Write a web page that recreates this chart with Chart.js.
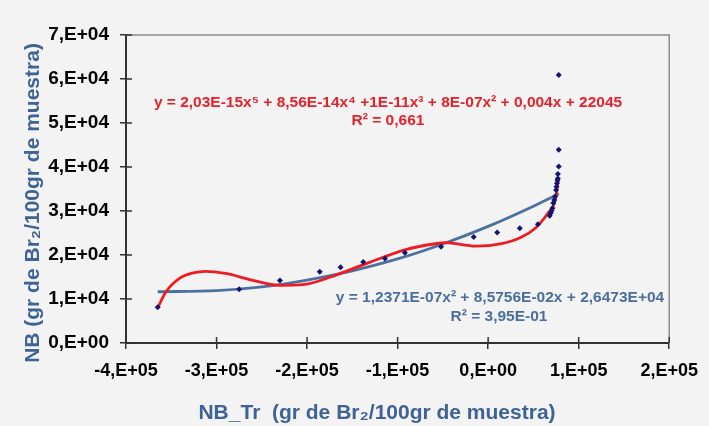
<!DOCTYPE html>
<html>
<head>
<meta charset="utf-8">
<script src="https://cdn.jsdelivr.net/npm/chart.js@4.4.1/dist/chart.umd.min.js"></script>
<style>
  html, body { margin: 0; padding: 0; background: #f3f3f3; }
  #wrap { width: 709px; height: 426px; }
</style>
</head>
<body>
<div id="wrap"><canvas id="c" width="709" height="426"></canvas></div>
<script>
// ---- data ----
const xTickLabels = ['-4,E+05', '-3,E+05', '-2,E+05', '-1,E+05', '0,E+00', '1,E+05', '2,E+05'];
const yTickLabels = ['0,E+00', '1,E+04', '2,E+04', '3,E+04', '4,E+04', '5,E+04', '6,E+04', '7,E+04'];

const obsX = [-365000, -275000, -230000, -186000, -163000, -138000, -114000, -92000, -52000, -16000, 10000, 35000, 55000,
              68000, 69000, 70000, 71000, 72000, 73000, 74000, 75000, 75500, 76000, 76500, 77000, 77000, 78000, 78000, 78000];
const obsY = [8100, 12200, 14200, 16200, 17200, 18400, 19200, 20500, 21900, 24100, 25100, 26100, 27000,
              28900, 29500, 30000, 30600, 31800, 32500, 33300, 34800, 35500, 36300, 37000, 37400, 38400, 40100, 43900, 60900];

// 5th order polynomial trendline (red)
const polyFitX = [-365000, -356000, -341000, -327000, -312000, -290000, -261000, -230000, -203000, -174000, -134000,
                  -90000, -60000, -47000, -14000, 15000, 37000, 52000, 66000, 73500, 77500];
const polyFitY = [8000, 11600, 14700, 15900, 16300, 15800, 14300, 13100, 13300, 15000, 18100,
                  21300, 22500, 22800, 22000, 22600, 24100, 26100, 29500, 32100, 37000];

// 2nd order polynomial trendline (blue)
const quadFitX = [-365000, -300000, -250000, -200000, -150000, -100000, -50000, 0, 50000, 78000];
const quadFitY = [11650, 11900, 12750, 14300, 16400, 19100, 22500, 26500, 31100, 33900];

const redEq = ['y = 2,03E-15x\u2075 + 8,56E-14x\u2074 +1E-11x\u00B3 + 8E-07x\u00B2 + 0,004x + 22045', 'R\u00B2 = 0,661'];
const blueEq = ['y = 1,2371E-07x\u00B2 + 8,5756E-02x + 2,6473E+04', 'R\u00B2 = 3,95E-01'];
const xTitle = 'NB_Tr  (gr de Br\u2082/100gr de muestra)';
const yTitle = 'NB (gr de Br\u2082/100gr de muestra)';

const toPts = (xs, ys) => xs.map((x, i) => ({ x: x, y: ys[i] }));

const FONT = '"Liberation Sans", Arial, sans-serif';
const AXIS_TITLE_COLOR = '#3e6394';

const decor = {
  id: 'decor',
  beforeDraw(chart) {
    const ctx = chart.ctx;
    ctx.save();
    ctx.fillStyle = '#f3f3f3';
    ctx.fillRect(0, 0, chart.width, chart.height);
    ctx.restore();
  },
  afterDraw(chart) {
    const ctx = chart.ctx;
    const a = chart.chartArea;
    const xs = chart.scales.x, ys = chart.scales.y;
    ctx.save();
    // top / right frame
    ctx.strokeStyle = '#8c8c8c';
    ctx.lineWidth = 1.5;
    ctx.beginPath();
    ctx.moveTo(a.left, a.top); ctx.lineTo(a.right, a.top); ctx.lineTo(a.right, a.bottom);
    ctx.stroke();
    // inner halves of the crossing tick marks
    ctx.strokeStyle = '#333333';
    ctx.lineWidth = 1.5;
    ctx.beginPath();
    xs.ticks.forEach(t => {
      const px = xs.getPixelForValue(t.value);
      ctx.moveTo(px, a.bottom); ctx.lineTo(px, a.bottom - 6);
    });
    ys.ticks.forEach(t => {
      const py = ys.getPixelForValue(t.value);
      ctx.moveTo(a.left, py); ctx.lineTo(a.left + 6, py);
    });
    ctx.stroke();
    // trendline equations
    ctx.textAlign = 'center';
    ctx.textBaseline = 'middle';
    ctx.fillStyle = '#e5222b';
    ctx.font = 'bold 15.5px ' + FONT;
    ctx.fillText(redEq[0], 388, 103);
    ctx.fillText(redEq[1], 388, 121);
    ctx.fillStyle = '#4b6e9c';
    ctx.font = 'bold 15.5px ' + FONT;
    ctx.fillText(blueEq[0], 500, 298);
    ctx.fillText(blueEq[1], 499, 317);
    // axis titles
    ctx.fillStyle = AXIS_TITLE_COLOR;
    ctx.font = 'bold 21px ' + FONT;
    ctx.fillText(xTitle, 377, 413);
    ctx.translate(33, 203);
    ctx.rotate(-Math.PI / 2);
    ctx.fillText(yTitle, 0, 0);
    ctx.restore();
  }
};

new Chart(document.getElementById('c'), {
  type: 'scatter',
  data: {
    datasets: [
      {
        label: 'NB',
        data: toPts(obsX, obsY),
        pointStyle: 'rectRot',
        pointRadius: 3,
        pointBackgroundColor: '#14146e',
        pointBorderColor: '#14146e',
        pointBorderWidth: 0,
        showLine: false
      },
      {
        label: 'Polin. 5',
        data: toPts(polyFitX, polyFitY),
        showLine: true,
        borderColor: '#ec1c24',
        borderWidth: 2.8,
        pointRadius: 0,
        cubicInterpolationMode: 'monotone',
        fill: false
      },
      {
        label: 'Polin. 2',
        data: toPts(quadFitX, quadFitY),
        showLine: true,
        borderColor: '#4d719f',
        borderWidth: 2.8,
        pointRadius: 0,
        cubicInterpolationMode: 'monotone',
        fill: false
      }
    ]
  },
  options: {
    responsive: false,
    animation: false,
    events: [],
    layout: { padding: { top: 35, right: 33, left: 0, bottom: 0 } },
    plugins: { legend: { display: false }, tooltip: { enabled: false } },
    scales: {
      x: {
        type: 'linear',
        min: -400000, max: 200000,
        afterFit(scale) { scale.height = 83; },
        grid: { display: true, drawOnChartArea: false, drawTicks: true, tickLength: 6, color: '#333333', lineWidth: 1.5 },
        border: { display: true, color: '#333333', width: 2 },
        ticks: {
          stepSize: 100000,
          padding: 11,
          color: '#000000',
          font: { family: FONT, size: 18, weight: 'bold' },
          maxRotation: 0,
          callback: (v, i) => xTickLabels[i]
        }
      },
      y: {
        type: 'linear',
        min: 0, max: 70000,
        afterFit(scale) { scale.width = 126; },
        grid: { display: true, drawOnChartArea: false, drawTicks: true, tickLength: 6, color: '#333333', lineWidth: 1.5 },
        border: { display: true, color: '#333333', width: 2 },
        ticks: {
          stepSize: 10000,
          padding: 11,
          color: '#000000',
          font: { family: FONT, size: 19, weight: 'bold' },
          callback: (v, i) => yTickLabels[i]
        }
      }
    }
  },
  plugins: [decor]
});
</script>
</body>
</html>
